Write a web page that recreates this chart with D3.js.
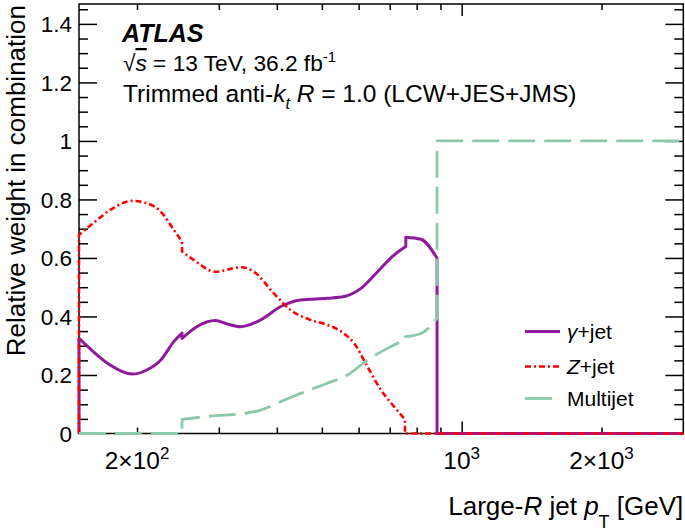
<!DOCTYPE html>
<html><head><meta charset="utf-8">
<script src="https://cdn.jsdelivr.net/npm/d3@7"></script>
<style>
body{margin:0;background:#fff}
text{font-family:"Liberation Sans",Arial,Helvetica,sans-serif;fill:#000}
</style>
</head><body><svg id="c" width="685" height="532"></svg>
<script>
// ---- data ----
const seriesNames = ["γ+jet", "Z+jet", "Multijet"];
const ptGamma  = [150, 150, 161, 175, 195, 210, 225, 240, 250, 250, 269, 295, 312, 334, 369, 408, 450, 514, 558, 607, 659, 715, 758, 758, 817, 885, 885, 3000];
const valGamma = [0, 0.325, 0.280, 0.234, 0.203, 0.217, 0.251, 0.314, 0.343, 0.325, 0.365, 0.386, 0.375, 0.365, 0.388, 0.434, 0.456, 0.462, 0.468, 0.496, 0.553, 0.610, 0.639, 0.671, 0.664, 0.599, 0, 0];
const ptZ  = [150, 150, 161, 175, 195, 210, 225, 240, 250, 250, 265, 295, 334, 357, 394, 428, 473, 514, 558, 587, 627, 670, 715, 755, 755, 3000];
const valZ = [0, 0.679, 0.719, 0.764, 0.795, 0.787, 0.758, 0.696, 0.656, 0.622, 0.593, 0.553, 0.568, 0.553, 0.479, 0.422, 0.388, 0.371, 0.342, 0.308, 0.228, 0.149, 0.092, 0.048, 0, 0];
const ptMulti  = [150, 250, 250, 290, 334, 369, 408, 450, 514, 568, 627, 692, 755, 755, 817, 885, 885, 3000];
const valMulti = [0, 0, 0.048, 0.060, 0.067, 0.080, 0.109, 0.137, 0.172, 0.200, 0.251, 0.291, 0.320, 0.331, 0.342, 0.394, 1.0, 1.0];
const xMinorTicks = [200, 300, 400, 500, 600, 700, 800, 900, 2000];
const xMajorTicks = [1000];
const xLabelTicks = [200, 1000, 2000];
const xLabelMant  = ["2×10", "10", "2×10"];
const xLabelExp   = ["2", "3", "3"];
const yMajorTicks = [0, 0.2, 0.4, 0.6, 0.8, 1, 1.2, 1.4];

// ---- layout ----
const svg = d3.select("#c");
const L = 79, R = 683.3, T = 4, B = 433.5;
const x = d3.scaleLog().domain([150, 3000]).range([L, R]);
const y = d3.scaleLinear().domain([0, 1.468]).range([B, T]);
const colors = ["#8e1a9c", "#ff0000", "#8cc9aa"];
const dashes = [null, "6,3,2,3", "27,9"];
const widths = [3, 2.6, 2.8];

// frame
svg.append("rect").attr("x", L).attr("y", T).attr("width", R - L).attr("height", B - T)
  .attr("fill", "none").attr("stroke", "#000").attr("stroke-width", 1.5);

function ticks(axis, tr) {
  svg.append("g").attr("transform", tr).call(axis)
    .call(g => g.select(".domain").remove())
    .call(g => g.selectAll("line").attr("stroke", "#000").attr("stroke-width", 1.5));
}
const yMinor = d3.range(0, 1.4501, 0.05).filter(v => !yMajorTicks.some(m => Math.abs(m - v) < 1e-6));
ticks(d3.axisBottom(x).tickValues(xMinorTicks).tickSize(-6).tickFormat(""), `translate(0,${B})`);
ticks(d3.axisBottom(x).tickValues(xMajorTicks).tickSize(-12).tickFormat(""), `translate(0,${B})`);
ticks(d3.axisTop(x).tickValues(xMinorTicks).tickSize(-6).tickFormat(""), `translate(0,${T})`);
ticks(d3.axisTop(x).tickValues(xMajorTicks).tickSize(-12).tickFormat(""), `translate(0,${T})`);
ticks(d3.axisLeft(y).tickValues(yMajorTicks).tickSize(-18).tickFormat(""), `translate(${L},0)`);
ticks(d3.axisLeft(y).tickValues(yMinor).tickSize(-9).tickFormat(""), `translate(${L},0)`);
ticks(d3.axisRight(y).tickValues(yMajorTicks).tickSize(-18).tickFormat(""), `translate(${R},0)`);
ticks(d3.axisRight(y).tickValues(yMinor).tickSize(-9).tickFormat(""), `translate(${R},0)`);

// y tick labels
svg.append("g").selectAll("text").data(yMajorTicks).join("text")
  .attr("x", L - 7).attr("y", d => y(d)).attr("dy", "0.36em")
  .attr("text-anchor", "end").attr("font-size", 22.5)
  .text(d => d3.format("~g")(d));

// x tick labels
xLabelTicks.forEach((v, i) => {
  const t = svg.append("text").attr("x", x(v)).attr("y", 469).attr("text-anchor", "middle").attr("font-size", 24.5);
  t.append("tspan").text(xLabelMant[i]);
  t.append("tspan").attr("dy", -10).attr("font-size", 17).text(xLabelExp[i]);
});

// axis titles
const xt = svg.append("text").attr("x", R).attr("y", 515).attr("text-anchor", "end").attr("font-size", 26);
xt.append("tspan").text("Large-");
xt.append("tspan").attr("font-style", "italic").text("R");
xt.append("tspan").text(" jet ");
xt.append("tspan").attr("font-style", "italic").text("p");
xt.append("tspan").attr("dy", 13).attr("font-size", 18).text("T");
xt.append("tspan").attr("dy", -13).text(" [GeV]");

svg.append("text").attr("transform", "translate(25,5) rotate(-90)")
  .attr("text-anchor", "end").attr("font-size", 26).text("Relative weight in combination");

// header
svg.append("text").attr("x", 122).attr("y", 42).attr("font-size", 25)
  .attr("font-weight", "bold").attr("font-style", "italic").text("ATLAS");
const h2 = svg.append("text").attr("x", 123).attr("y", 71).attr("font-size", 22.7);
h2.append("tspan").text("√");
h2.append("tspan").attr("font-style", "italic").attr("text-decoration", "overline").text("s");
h2.append("tspan").text(" = 13 TeV, 36.2 fb");
h2.append("tspan").attr("dy", -9).attr("font-size", 15).text("-1");
const h3 = svg.append("text").attr("x", 123).attr("y", 102).attr("font-size", 24.5);
h3.append("tspan").text("Trimmed anti-");
h3.append("tspan").attr("font-style", "italic").text("k");
h3.append("tspan").attr("font-style", "italic").attr("dy", 7).attr("font-size", 16).text("t");
h3.append("tspan").attr("dy", -7).text(" ");
h3.append("tspan").attr("font-style", "italic").text("R");
h3.append("tspan").text(" = 1.0 (LCW+JES+JMS)");

// curves
function buildPath(xs, ys) {
  const pts = xs.map((v, i) => [x(v), y(ys[i])]);
  const pieces = []; let cur = [pts[0]];
  for (let i = 1; i < pts.length; i++) {
    if (Math.abs(pts[i][0] - pts[i - 1][0]) < 1e-6) { pieces.push(cur); cur = [pts[i]]; }
    else cur.push(pts[i]);
  }
  pieces.push(cur);
  const gen = d3.line().curve(d3.curveMonotoneX);
  let d = "";
  pieces.forEach((p, i) => {
    let s = p.length === 1 ? `M${p[0][0]},${p[0][1]}` : gen(p);
    if (i > 0) s = "L" + s.slice(1);
    d += s;
  });
  return d;
}
const seriesX = [ptGamma, ptZ, ptMulti];
const seriesY = [valGamma, valZ, valMulti];
[0, 1, 2].forEach(i => {
  svg.append("path").attr("d", buildPath(seriesX[i], seriesY[i]))
    .attr("fill", "none").attr("stroke", colors[i]).attr("stroke-width", widths[i])
    .attr("stroke-dasharray", dashes[i]).attr("stroke-linejoin", "round");
});

// legend
const legY = [331.5, 366.5, 398.5];
seriesNames.forEach((n, i) => {
  svg.append("line").attr("x1", 525).attr("x2", 560).attr("y1", legY[i]).attr("y2", legY[i])
    .attr("stroke", colors[i]).attr("stroke-width", widths[i]).attr("stroke-dasharray", dashes[i]);
  const t = svg.append("text").attr("x", 567).attr("y", legY[i] + 7.5).attr("font-size", 21);
  if (i === 0) { t.append("tspan").attr("font-style", "italic").text("γ"); t.append("tspan").text("+jet"); }
  else if (i === 1) { t.append("tspan").attr("font-style", "italic").text("Z"); t.append("tspan").text("+jet"); }
  else t.text(n);
});
</script></body></html>
